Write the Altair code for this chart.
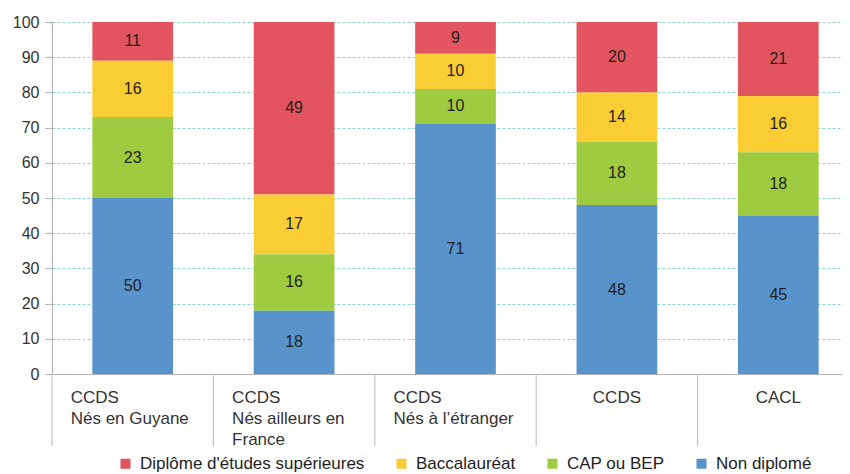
import altair as alt
import pandas as pd

categories = ["CCDS|Nés en Guyane", "CCDS|Nés ailleurs en|\u00a0France", "CCDS|Nés à l’étranger", "CCDS", "CACL"]
series = ["Diplôme d'études supérieures", "Baccalauréat", "CAP ou BEP", "Non diplomé"]
colors = ["#e2555e", "#f9cd33", "#9ecb3f", "#5893cb"]
stack_order = [3, 2, 1, 0]

sup = [11, 49, 9, 20, 21]
bac = [16, 17, 10, 14, 16]
cap_bep = [23, 16, 10, 18, 18]
non_diplome = [50, 18, 71, 48, 45]
y_ticks = [0, 10, 20, 30, 40, 50, 60, 70, 80, 90, 100]

rows = []
for s, o, vals in zip(series, stack_order, [sup, bac, cap_bep, non_diplome]):
    for c, v in zip(categories, vals):
        rows.append({"cat": c, "serie": s, "ord": o, "value": v})
df = pd.DataFrame(rows)
lab_df = pd.DataFrame({"cat": categories})

FONT = "Liberation Sans"
xscale = alt.Scale(domain=categories, range=[0, 807], paddingInner=0, paddingOuter=0)
yscale = alt.Scale(domain=[0, 100], nice=False)

xaxis = alt.Axis(title=None, labels=False, ticks=False, grid=False,
                 domainColor="#b4b4b4", domainWidth=1.2)
yaxis = alt.Axis(title=None, values=y_ticks,
                 labelFont=FONT, labelFontSize=16, labelColor="#333333",
                 labelPadding=6, tickSize=7, tickColor="#b4b4b4", tickWidth=1.2,
                 domainColor="#b4b4b4", domainWidth=1.2,
                 grid=True, gridColor="#8fd3d6", gridDash=[3, 2], gridWidth=1.1)

bars = alt.Chart(df).mark_bar(width=alt.RelativeBandSize(0.5)).encode(
    x=alt.X("cat:N", sort=categories, scale=xscale, axis=xaxis),
    y=alt.Y("value:Q", stack="zero", scale=yscale, axis=yaxis),
    order=alt.Order("ord:Q", sort="ascending"),
    color=alt.Color("serie:N", scale=alt.Scale(domain=series, range=colors),
                    legend=alt.Legend(title=None, orient="none", direction="horizontal",
                                      legendX=65, legendY=433, symbolType="square",
                                      symbolSize=100, symbolStrokeWidth=0,
                                      labelFont=FONT, labelFontSize=17, labelColor="#222222",
                                      labelLimit=0, columnPadding=28, labelOffset=6)),
)

values = alt.Chart(df).transform_window(
    cum="sum(value)", groupby=["cat"], sort=[alt.SortField("ord", order="ascending")],
    frame=[None, 0]
).transform_calculate(mid="datum.cum - datum.value / 2").mark_text(
    font=FONT, fontSize=16, color="#222222", baseline="middle"
).encode(
    x=alt.X("cat:N", sort=categories, scale=xscale, axis=xaxis),
    y=alt.Y("mid:Q", scale=yscale, axis=yaxis),
    text=alt.Text("value:Q"),
)

separators = alt.Chart(lab_df).mark_rule(color="#c4c4c4", strokeWidth=1.2).encode(
    x=alt.X("cat:N", sort=categories, scale=xscale, axis=xaxis, bandPosition=0),
    y=alt.value(352),
    y2=alt.value(424),
)

xlab_left = alt.Chart(lab_df).transform_filter(
    "indexof(datum.cat, '|') >= 0"
).mark_text(font=FONT, fontSize=17, color="#333333", align="left", baseline="top",
            dx=-62, lineBreak="|", lineHeight=21).encode(
    x=alt.X("cat:N", sort=categories, scale=xscale, axis=xaxis),
    y=alt.value(368),
    text="cat:N",
)

xlab_center = alt.Chart(lab_df).transform_filter(
    "indexof(datum.cat, '|') < 0"
).mark_text(font=FONT, fontSize=17, color="#333333", align="center", baseline="top").encode(
    x=alt.X("cat:N", sort=categories, scale=xscale, axis=xaxis),
    y=alt.value(368),
    text="cat:N",
)

chart = alt.layer(bars, values, separators, xlab_left, xlab_center).properties(
    width=790, height=352,
    autosize=alt.AutoSizeParams(type="none"),
    padding={"left": 44, "top": 14, "right": 0, "bottom": 100},
).configure_view(stroke=None)

chart.save("out.html", embed_options={"renderer": "svg", "actions": False})
